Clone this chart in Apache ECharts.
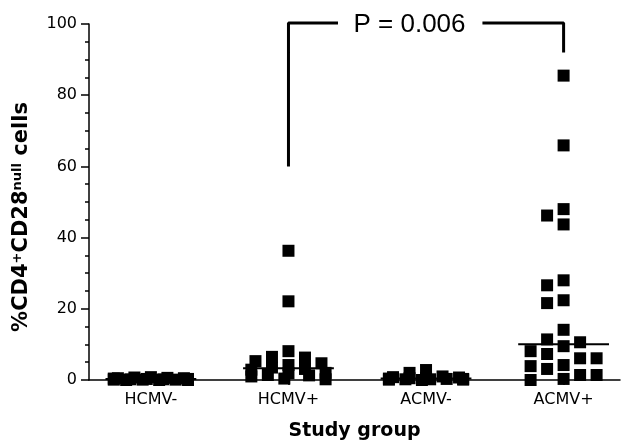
<!DOCTYPE html>
<html>
<head>
<meta charset="utf-8">
<script src="https://cdn.jsdelivr.net/npm/echarts@6/dist/echarts.min.js"></script>
<style>html,body{margin:0;padding:0;background:#fff}#c{width:625px;height:446px}</style>
</head>
<body>
<div id="c"></div>
<script>
const categories = ['HCMV-', 'HCMV+', 'ACMV-', 'ACMV+'];
const hcmvNeg = [0.8, 0.7, 0.6, 0.5, 0.5, 0.4, 0.3, 0.3, 0.2, 0.2, 0.1, 0.1, 0.1, 0.0, 0.0, 0.0];
const hcmvPos = [36.3, 22.1, 8.1, 6.5, 6.3, 5.3, 4.7, 4.2, 3.5, 3.1, 2.9, 2.0, 1.9, 1.4, 1.3, 1.0, 0.4, 0.2];
const acmvNeg = [2.8, 2.0, 1.0, 0.8, 0.7, 0.6, 0.5, 0.4, 0.3, 0.3, 0.2, 0.2, 0.1, 0.1, 0.0];
const acmvPos = [85.5, 65.9, 48.0, 46.2, 43.7, 28.0, 26.6, 22.4, 21.6, 14.1, 11.4, 10.6, 9.5, 8.1, 7.3, 6.1, 6.1, 4.2, 3.9, 3.1, 1.4, 1.4, 0.3, 0.0];
const groups = [hcmvNeg, hcmvPos, acmvNeg, acmvPos];
const yTicks = [0, 20, 40, 60, 80, 100];
const pValueLabel = 'P = 0.006';
const bracketGroups = [1, 3];      // HCMV+ vs ACMV+
const bracketEnds = [60, 92];      // lower ends of the bracket legs
const bracketTop = 100.3;

// layout
const GRID = {left: 89, top: 24, width: 531, height: 358};
const XMIN = 0.55, XMAX = 4.41;
const PX_X = GRID.width / (XMAX - XMIN);
const PX_Y = GRID.height / (yTicks[yTicks.length - 1] - yTicks[0]);
const SYM = 12;
const CELL_X = 16;    // preferred horizontal spacing incl. gap
const CELL_Y = 13;
const STEP = 4.125;
const MAXK = 9;

function swarm(values, gi) {
  const sorted = values.slice().sort((a, b) => b - a);
  const cands = [0];
  for (let k = 1; k <= MAXK; k++) cands.push(-k, k);
  const placed = [];
  sorted.forEach(v => {
    let best = 0, bestC = Infinity;
    for (const c of cands) {
      const dx = c * STEP;
      let ov = 0;
      placed.forEach(p => {
        const ox = Math.max(0, CELL_X - Math.abs(p.dx - dx));
        const oy = Math.max(0, CELL_Y - Math.abs((p.v - v) * PX_Y));
        ov += ox * oy;
      });
      if (ov < bestC - 1e-9) { best = c; bestC = ov; }
      if (ov === 0) break;
    }
    placed.push({v: v, dx: best * STEP});
  });
  return placed.map(p => [gi + 1 + p.dx / PX_X, p.v]);
}
function median(a) {
  const s = a.slice().sort((x, y) => x - y);
  const n = s.length;
  return n % 2 ? s[(n - 1) / 2] : (s[n / 2 - 1] + s[n / 2]) / 2;
}

const pointData = [];
groups.forEach((g, i) => swarm(g, i).forEach(p => pointData.push(p)));
const medianData = [];
groups.forEach((g, i) => {
  const m = median(g);
  medianData.push([i + 1 - 0.33, m], [i + 1 + 0.33, m], '-');
});
const bx1 = bracketGroups[0] + 1, bx2 = bracketGroups[1] + 1;
const bracketData = [
  [bx1, bracketEnds[0]], [bx1, bracketTop], [2.36, bracketTop], '-',
  [3.41, bracketTop], [bx2, bracketTop], [bx2, bracketEnds[1]]
];

const chart = echarts.init(document.getElementById('c'), null, {renderer: 'canvas'});
chart.setOption({
  animation: false,
  backgroundColor: '#fff',
  grid: {left: GRID.left, top: GRID.top, width: GRID.width, height: GRID.height},
  xAxis: {
    type: 'value', min: XMIN, max: XMAX,
    name: 'Study group', nameLocation: 'middle', nameGap: 42,
    nameTextStyle: {fontFamily: 'DejaVu Sans', fontWeight: 'bold', fontSize: 19, color: '#000'},
    axisLine: {show: true, lineStyle: {color: '#000', width: 1.5}},
    axisTick: {show: true, customValues: [1, 2, 3, 4], length: 5, lineStyle: {color: '#000', width: 1.5}},
    axisLabel: {customValues: [1, 2, 3, 4], formatter: v => categories[Math.round(v) - 1],
      fontFamily: 'DejaVu Sans', fontSize: 16, color: '#000', margin: 12},
    splitLine: {show: false}
  },
  yAxis: {
    type: 'value', min: yTicks[0], max: yTicks[yTicks.length - 1], interval: 20,
    name: '{b|%CD4}{s|+}{b|CD28}{s|null}{b| cells}',
    nameLocation: 'middle', nameRotate: 90, nameGap: 57,
    nameTextStyle: {
      padding: [0, 30, 0, 0],
      rich: {
        b: {fontFamily: 'DejaVu Sans', fontWeight: 'bold', fontSize: 21, color: '#000'},
        s: {fontFamily: 'DejaVu Sans', fontWeight: 'bold', fontSize: 13, color: '#000', verticalAlign: 'top', padding: [0, 0, 7, 0]}
      }
    },
    axisLine: {show: true, lineStyle: {color: '#000', width: 1.5}},
    axisTick: {show: true, length: 8, lineStyle: {color: '#000', width: 1.5}},
    minorTick: {show: true, splitNumber: 4, length: 4, lineStyle: {color: '#000', width: 1.5}},
    axisLabel: {fontFamily: 'DejaVu Sans', fontSize: 16, color: '#000', margin: 12},
    splitLine: {show: false}
  },
  series: [
    {type: 'scatter', data: pointData, symbol: 'rect', symbolSize: SYM, clip: false,
      itemStyle: {color: '#000', opacity: 1}},
    {type: 'line', data: medianData, symbol: 'none', connectNulls: false, clip: false,
      lineStyle: {color: '#000', width: 2}},
    {type: 'line', data: bracketData, symbol: 'none', connectNulls: false, clip: false,
      lineStyle: {color: '#000', width: 3}},
    {type: 'scatter', data: [[2.88, 99.7]], symbolSize: 1, clip: false,
      itemStyle: {color: 'rgba(0,0,0,0)', opacity: 1},
      label: {show: true, position: 'inside', formatter: pValueLabel, opacity: 1,
        fontFamily: 'Liberation Sans', fontSize: 26, color: '#000'}}
  ]
});
</script>
</body>
</html>
